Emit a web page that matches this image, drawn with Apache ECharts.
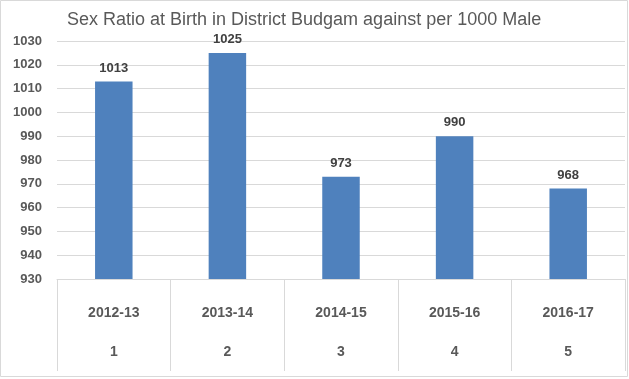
<!DOCTYPE html>
<html><head><meta charset="utf-8">
<script src="https://cdn.jsdelivr.net/npm/echarts@6/dist/echarts.min.js"></script>
<style>html,body{margin:0;padding:0;background:#fff}#c{width:629px;height:379px}</style>
</head><body><div id="c"></div>
<script>
const categories = ['2012-13','2013-14','2014-15','2015-16','2016-17'];
const serialNumbers = ['1','2','3','4','5'];
const sexRatio = [1013, 1025, 973, 990, 968];
const yTicks = {min: 930, max: 1030, interval: 10};
const titleText = 'Sex Ratio at Birth in District Budgam against per 1000 Male';

const font = 'Liberation Sans, Arial, sans-serif';
const chart = echarts.init(document.getElementById('c'));
chart.setOption({
  animation: false,
  title: {text: titleText, left: 62, top: 6,
    textStyle: {fontFamily: font, fontSize: 18, fontWeight: 'normal', color: '#595959'}},
  graphic: [{type: 'rect', shape: {x: 0.5, y: 0.5, width: 627, height: 376},
    style: {fill: 'none', stroke: '#d9d9d9', lineWidth: 1}, silent: true}],
  grid: {left: 57, right: 4, top: 41, bottom: 100},
  xAxis: [{
    type: 'category', data: categories, position: 'bottom',
    axisLine: {show: true, lineStyle: {color: '#d9d9d9'}},
    axisTick: {show: true, length: 92, interval: 0, lineStyle: {color: '#d9d9d9'}},
    axisLabel: {margin: 27, fontFamily: font, fontSize: 14, fontWeight: 'bold', color: '#595959'}
  }, {
    type: 'category', data: serialNumbers, position: 'bottom',
    axisLine: {show: false}, axisTick: {show: false},
    axisLabel: {margin: 66, fontFamily: font, fontSize: 14, fontWeight: 'bold', color: '#595959'}
  }],
  yAxis: {
    type: 'value', min: yTicks.min, max: yTicks.max, interval: yTicks.interval,
    axisLine: {show: false}, axisTick: {show: false},
    splitLine: {lineStyle: {color: '#d9d9d9'}},
    axisLabel: {margin: 15, formatter: v => String(v), fontFamily: font, fontSize: 13, fontWeight: 'bold', color: '#595959'}
  },
  series: [{
    type: 'bar', data: sexRatio, xAxisIndex: 0, barWidth: '33%',
    itemStyle: {color: '#4f81bd'},
    label: {show: true, position: 'top', distance: 7, fontFamily: font, fontSize: 13,
      fontWeight: 'bold', color: '#404040'}
  }]
});
</script></body></html>
